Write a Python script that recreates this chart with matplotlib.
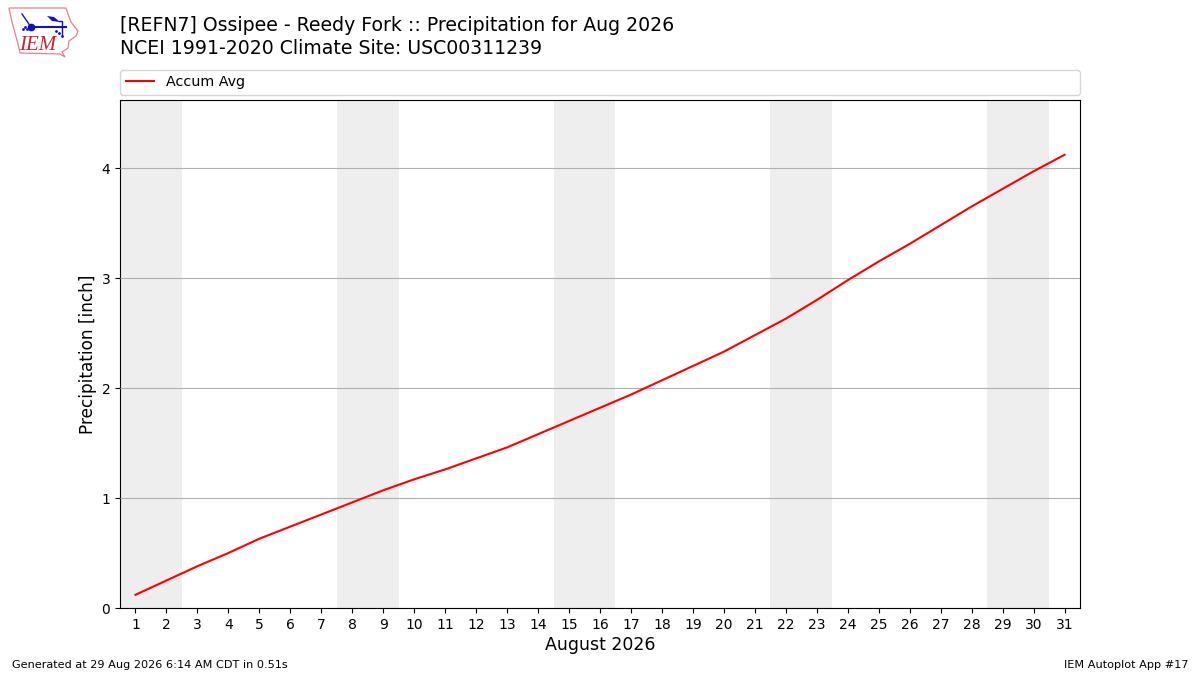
import matplotlib
matplotlib.use("Agg")
import matplotlib.pyplot as plt
from matplotlib.patches import Polygon

days = list(range(1, 32))
accum = [0.12, 0.25, 0.38, 0.50, 0.63, 0.74, 0.85, 0.96, 1.07, 1.17,
         1.26, 1.36, 1.46, 1.58, 1.70, 1.82, 1.94, 2.07, 2.20, 2.33,
         2.48, 2.63, 2.80, 2.98, 3.15, 3.31, 3.48, 3.65, 3.81, 3.97, 4.12]
weekends = [1, 8, 15, 22, 29]

title = "[REFN7] Ossipee - Reedy Fork :: Precipitation for Aug 2026\nNCEI 1991-2020 Climate Site: USC00311239"

fig = plt.figure(figsize=(12, 6.75), dpi=100)
ax = fig.add_axes([120 / 1200, 1 - 608 / 675, 960 / 1200, 508 / 675])

for d in weekends:
    ax.axvspan(d - 0.5, d + 1.5, color="#eeeeee", lw=0, zorder=1)
ax.plot(days, accum, color="r", lw=1.5, label="Accum Avg", zorder=3)

ax.set_xlim(0.5, 31.5)
ax.set_ylim(0, 508 / 110)
ax.set_xticks(days)
ax.set_yticks([0, 1, 2, 3, 4])
ax.grid(True, axis="y", color="#b0b0b0", lw=0.8, zorder=2)
ax.set_axisbelow(False)
ax.tick_params(axis="both", labelsize=10)
ax.set_ylabel("Precipitation [inch]", fontsize=12.15, labelpad=3.5)
ax.set_xlabel("August 2026", fontsize=12.5, labelpad=3)
ax.legend(loc="lower left", bbox_to_anchor=(0, 1.0095, 1, 0.05), mode="expand",
          borderaxespad=0, fontsize=10.25)

fig.text(120 / 1200, 1 - 58 / 675, title, fontsize=13.6, ha="left", va="bottom", linespacing=1.25)
fig.text(12 / 1200, 1 - 665 / 675, "Generated at 29 Aug 2026 6:14 AM CDT in 0.51s", fontsize=8.12, va="center")
fig.text(1188 / 1200, 1 - 665 / 675, "IEM Autoplot App #17", fontsize=8.12, ha="right", va="center")

# rough logo, pixel coordinates
logo = fig.add_axes([0, 1 - 60 / 675, 90 / 1200, 60 / 675])
logo.set_xlim(0, 90)
logo.set_ylim(60, 0)
logo.axis("off")
logo.add_patch(Polygon([(9, 8), (66, 8), (68, 14), (71, 22), (78, 31), (76, 36), (69, 41),
                        (68, 48), (62, 52), (65, 57), (60, 54), (20, 53), (18, 44), (12, 22)],
                       fc="white", ec="#e88088", lw=0.9))
logo.plot([31, 66], [27, 27], color="#1010c8", lw=1.5)
logo.plot([22, 31], [14, 27], color="#1010c8", lw=1)
logo.plot([31], [27], "o", color="#1010c8", ms=4.5)
logo.add_patch(Polygon([(47, 16), (54, 17), (60, 22), (52, 21)], fc="#1010c8", ec="none"))
logo.plot([59, 62, 62], [21, 21, 35], color="#1010c8", lw=1)
logo.plot([23, 25, 27, 56, 59, 62], [29, 27, 29, 31, 33, 36], ".", color="#1010c8", ms=2)
logo.text(38, 45, "IEM", color="#d02030", fontsize=15, family="Liberation Serif",
          style="italic", ha="center", va="center")

fig.savefig("out.png", dpi=100)
